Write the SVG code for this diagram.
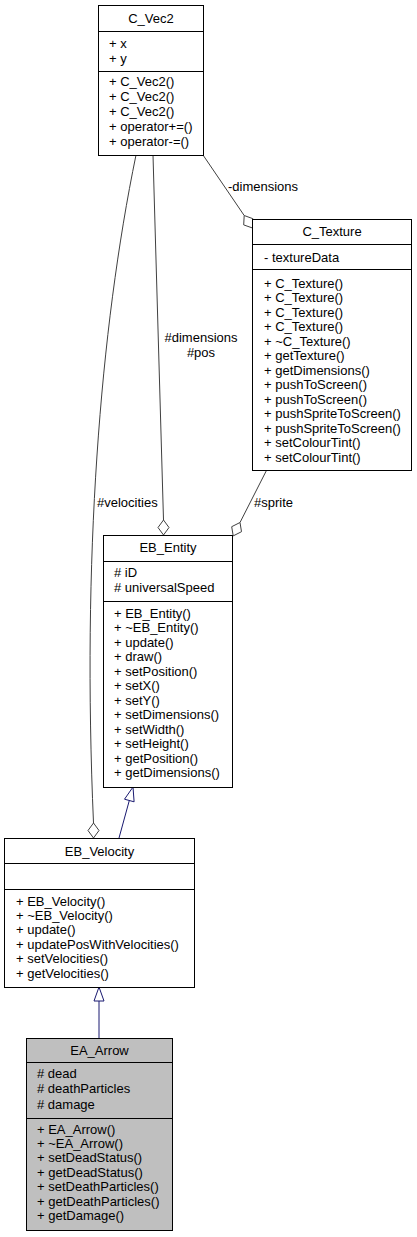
<svg xmlns="http://www.w3.org/2000/svg" width="417" height="1237" viewBox="0 0 417 1237">
<style>
text{font-family:"Liberation Sans",Arial,sans-serif;font-size:13px;fill:#000}
.t{text-anchor:middle}
.box{fill:#fff;stroke:#000;stroke-width:1}
.cur{fill:#bfbfbf;stroke:#000;stroke-width:1}
.sep{stroke:#000;stroke-width:1}
.agg{fill:none;stroke:#404040;stroke-width:1}
.dia{fill:#fff;stroke:#404040;stroke-width:1}
.inh{fill:none;stroke:#191970;stroke-width:1}
.tri{fill:#fff;stroke:#191970;stroke-width:1}
</style>
<rect width="417" height="1237" fill="#fff"/>
<g id="connectors">
  <path class="agg" d="M203,155 L244.2,215.5"/>
  <polygon class="dia" points="252.5,228 252.9,218.7 244.2,215.5 243.7,224.9"/>
  <text x="228" y="190.5">-dimensions</text>
  <path class="agg" d="M153,155 L163.5,520"/>
  <polygon class="dia" points="163.5,535 169,527.5 163.5,520 158,527.5"/>
  <text class="t" x="201" y="341.5">#dimensions</text>
  <text class="t" x="201" y="356.5">#pos</text>
  <path class="agg" d="M136,155 C100,330 82,560 93.5,823"/>
  <polygon class="dia" points="93.5,838 99,830.5 93.5,823 88,830.5"/>
  <text x="97" y="506.5">#velocities</text>
  <path class="agg" d="M266.7,470 L240,522.5"/>
  <polygon class="dia" points="233.2,535.9 241.5,531.7 240,522.5 231.7,526.7"/>
  <text x="254" y="507">#sprite</text>
  <path class="inh" d="M119,838 L129.3,800.5"/>
  <polygon class="tri" points="133,787 134.1,801.8 124.5,799.2"/>
  <path class="inh" d="M99,1038 L99,1001"/>
  <polygon class="tri" points="99,987 104,1001 94,1001"/>
</g>
<g id="C_Vec2">
  <rect class="box" x="98.5" y="5.5" width="105" height="150"/>
  <line class="sep" x1="98.5" y1="31.5" x2="203.5" y2="31.5"/>
  <line class="sep" x1="98.5" y1="71.5" x2="203.5" y2="71.5"/>
  <text class="t" x="151" y="23">C_Vec2</text>
  <text x="109" y="47.5">+ x</text>
  <text x="109" y="62.5">+ y</text>
  <text x="109" y="85.5">+ C_Vec2()</text>
  <text x="109" y="100.5">+ C_Vec2()</text>
  <text x="109" y="115.5">+ C_Vec2()</text>
  <text x="109" y="130.5">+ operator+=()</text>
  <text x="109" y="145.5">+ operator-=()</text>
</g>
<g id="C_Texture">
  <rect class="box" x="252.5" y="219.5" width="159" height="251"/>
  <line class="sep" x1="252.5" y1="244.5" x2="411.5" y2="244.5"/>
  <line class="sep" x1="252.5" y1="269.5" x2="411.5" y2="269.5"/>
  <text class="t" x="332" y="235.5">C_Texture</text>
  <text x="264" y="261.5">- textureData</text>
  <text x="264" y="287.8">+ C_Texture()</text>
  <text x="264" y="302.3">+ C_Texture()</text>
  <text x="264" y="316.8">+ C_Texture()</text>
  <text x="264" y="331.3">+ C_Texture()</text>
  <text x="264" y="345.8">+ ~C_Texture()</text>
  <text x="264" y="360.3">+ getTexture()</text>
  <text x="264" y="374.8">+ getDimensions()</text>
  <text x="264" y="389.3">+ pushToScreen()</text>
  <text x="264" y="403.8">+ pushToScreen()</text>
  <text x="264" y="418.3">+ pushSpriteToScreen()</text>
  <text x="264" y="432.8">+ pushSpriteToScreen()</text>
  <text x="264" y="447.3">+ setColourTint()</text>
  <text x="264" y="461.8">+ setColourTint()</text>
</g>
<g id="EB_Entity">
  <rect class="box" x="103.5" y="535.5" width="129" height="252"/>
  <line class="sep" x1="103.5" y1="561.5" x2="232.5" y2="561.5"/>
  <line class="sep" x1="103.5" y1="601.5" x2="232.5" y2="601.5"/>
  <text class="t" x="168" y="551.5">EB_Entity</text>
  <text x="114" y="576.5"># iD</text>
  <text x="114" y="591.5"># universalSpeed</text>
  <text x="114" y="617.5">+ EB_Entity()</text>
  <text x="114" y="632">+ ~EB_Entity()</text>
  <text x="114" y="646.5">+ update()</text>
  <text x="114" y="661">+ draw()</text>
  <text x="114" y="675.5">+ setPosition()</text>
  <text x="114" y="690">+ setX()</text>
  <text x="114" y="704.5">+ setY()</text>
  <text x="114" y="719">+ setDimensions()</text>
  <text x="114" y="733.5">+ setWidth()</text>
  <text x="114" y="748">+ setHeight()</text>
  <text x="114" y="762.5">+ getPosition()</text>
  <text x="114" y="777">+ getDimensions()</text>
</g>
<g id="EB_Velocity">
  <rect class="box" x="4.5" y="838.5" width="190" height="149"/>
  <line class="sep" x1="4.5" y1="863.5" x2="194.5" y2="863.5"/>
  <line class="sep" x1="4.5" y1="889.5" x2="194.5" y2="889.5"/>
  <text class="t" x="99.5" y="855.5">EB_Velocity</text>
  <text x="16" y="905.5">+ EB_Velocity()</text>
  <text x="16" y="919.9">+ ~EB_Velocity()</text>
  <text x="16" y="934.3">+ update()</text>
  <text x="16" y="948.7">+ updatePosWithVelocities()</text>
  <text x="16" y="963.1">+ setVelocities()</text>
  <text x="16" y="977.5">+ getVelocities()</text>
</g>
<g id="EA_Arrow">
  <rect class="cur" x="26.5" y="1038.5" width="146" height="192"/>
  <line class="sep" x1="26.5" y1="1062.5" x2="172.5" y2="1062.5"/>
  <line class="sep" x1="26.5" y1="1118.5" x2="172.5" y2="1118.5"/>
  <text class="t" x="99.5" y="1054.5">EA_Arrow</text>
  <text x="37" y="1077.5"># dead</text>
  <text x="37" y="1093"># deathParticles</text>
  <text x="37" y="1108.5"># damage</text>
  <text x="37" y="1133.5">+ EA_Arrow()</text>
  <text x="37" y="1147.9">+ ~EA_Arrow()</text>
  <text x="37" y="1162.3">+ setDeadStatus()</text>
  <text x="37" y="1176.7">+ getDeadStatus()</text>
  <text x="37" y="1191.1">+ setDeathParticles()</text>
  <text x="37" y="1205.5">+ getDeathParticles()</text>
  <text x="37" y="1219.9">+ getDamage()</text>
</g>
</svg>
